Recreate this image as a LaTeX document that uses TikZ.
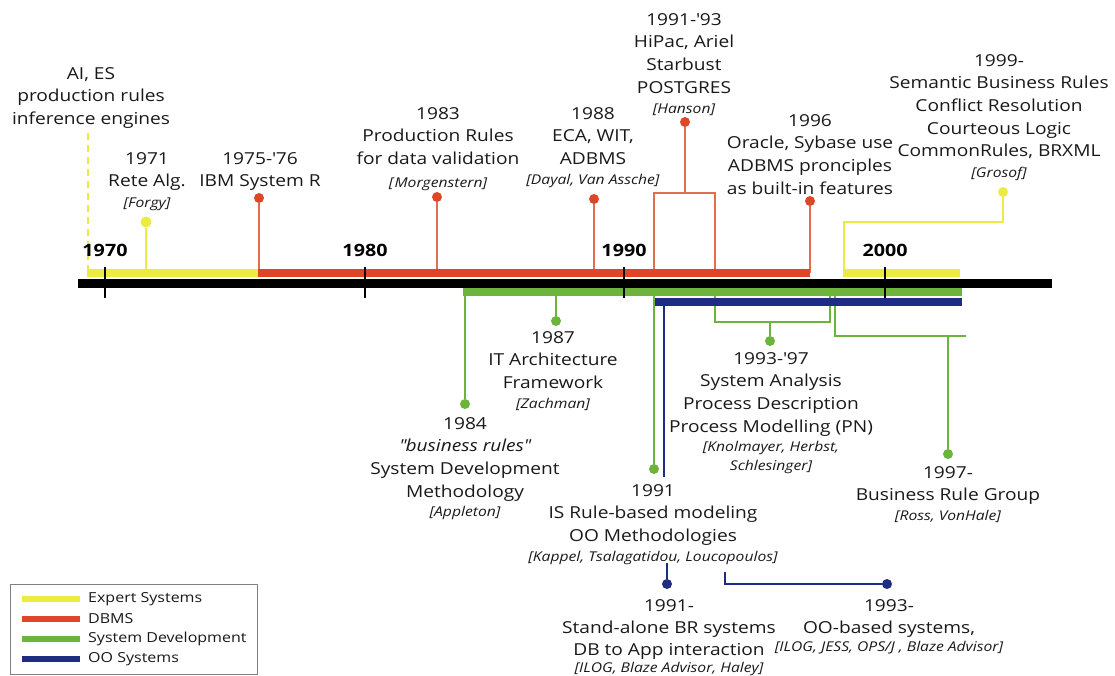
\documentclass[tikz,border=0pt]{standalone}
\usepackage{fontspec}
\setmainfont{Open Sans}[FakeStretch=1.16]
\usetikzlibrary{positioning}
\definecolor{ESClr}{RGB}{236,236,64}
\definecolor{DBClr}{RGB}{222,70,40}
\definecolor{DBLineClr}{RGB}{226,110,80}
\definecolor{SDClr}{RGB}{108,180,60}
\definecolor{OOClr}{RGB}{30,45,130}
\definecolor{TxtClr}{RGB}{25,25,25}
\newcommand{\RefTxt}[1]{{\fontsize{13.5}{16}\selectfont\itshape #1}}
\newcommand{\ap}{\textquotesingle}

\begin{document}
\begin{tikzpicture}[x=1pt,y=-1pt,
  lbl/.style={align=center,anchor=north,inner sep=0pt,text=TxtClr,font=\fontsize{16.5}{22.7}\selectfont},
  yrlbl/.style={inner sep=0pt,font=\fontsize{17}{20}\selectfont\bfseries},
  dot/.style={circle,inner sep=0pt,minimum size=10pt},
  bar/.style={line width=8pt},
  conn/.style={line width=1.5pt},
  legtxt/.style={anchor=west,inner sep=0pt,text=TxtClr,font=\fontsize{13.8}{16}\selectfont}]
\useasboundingbox (0,0) rectangle (1115,675);

% bar levels
\coordinate (esBar) at (0,273);
\coordinate (dbBar) at (0,273);
\coordinate (sdBar) at (0,292);
\coordinate (ooBar) at (0,302);

% labels above the axis
\node[lbl] (tAIES) at (91,67) {AI, ES\\production rules\\inference engines};
\node[lbl] (t1971) at (147,152) {1971\\Rete Alg.\\[-2pt]\RefTxt{[Forgy]}};
\node[lbl] (t1975) at (260,152) {1975-\ap76\\IBM System R};
\node[lbl] (t1983) at (438,107) {1983\\Production Rules\\for data validation\\\RefTxt{[\textup{\itshape Morgenstern}]}};
\node[lbl] (t1988) at (593,107) {1988\\ECA, WIT,\\ADBMS\\[-3pt]\RefTxt{[Dayal, Van Assche]}};
\node[lbl] (t9193) at (684,13) {1991-\ap93\\HiPac, Ariel\\Starbust\\POSTGRES\\[-2pt]\RefTxt{[Hanson]}};
\node[lbl] (t1996) at (810,114) {1996\\Oracle, Sybase use\\ADBMS pronciples\\as built-in features};
\node[lbl] (t1999) at (999,54) {1999-\\Semantic Business Rules\\Conflict Resolution\\Courteous Logic\\CommonRules, BRXML\\[-2pt]\RefTxt{[Grosof]}};

% labels below the axis
\node[lbl] (t1987) at (553,331) {1987\\IT Architecture\\Framework\\[-3pt]\RefTxt{[Zachman]}};
\node[lbl] (t1984) at (465,417) {1984\\\textit{\textquotedbl business rules\textquotedbl}\\System Development\\Methodology\\[-3pt]\RefTxt{[Appleton]}};
\node[lbl] (t1991) at (653,484) {1991\\IS Rule-based modeling\\OO Methodologies\\[-3pt]\RefTxt{[Kappel, Tsalagatidou, Loucopoulos]}};
\node[lbl] (t9397) at (771,352) {1993-\ap97\\System Analysis\\Process Description\\Process Modelling (PN)\\[-3pt]\RefTxt{[Knolmayer, Herbst,}\\[-4pt]\RefTxt{Schlesinger]}};
\node[lbl] (t1997) at (948,466) {1997-\\Business Rule Group\\[-3pt]\RefTxt{[Ross, VonHale]}};
\node[lbl] (t1991b) at (669,599) {1991-\\Stand-alone BR systems\\[-1pt]DB to App interaction\\[-6pt]\RefTxt{[ILOG, Blaze Advisor, Haley]}};
\node[lbl] (t1993) at (889,599) {1993-\\OO-based systems,\\[-5pt]\RefTxt{[ILOG, JESS, OPS/J , Blaze Advisor]}};

% dots
\node[dot,fill=ESClr,minimum size=11pt] (p1971) at (146,222) {};
\node[dot,fill=DBClr] (p1975) at (259,198) {};
\node[dot,fill=DBClr] (p1983) at (437,197) {};
\node[dot,fill=DBClr] (p1988) at (594,199) {};
\node[dot,fill=DBClr] (p9193) at (685,122) {};
\node[dot,fill=DBClr] (p1996) at (810,201) {};
\node[dot,fill=ESClr] (p1999) at (1003,192) {};
\node[dot,fill=SDClr] (p1984) at (465,404) {};
\node[dot,fill=SDClr] (p1987) at (556,321) {};
\node[dot,fill=SDClr] (p1991) at (654,469) {};
\node[dot,fill=SDClr] (p9397) at (770,341) {};
\node[dot,fill=SDClr] (p1997) at (948,454) {};
\node[dot,fill=OOClr] (p1991b) at (667,584) {};
\node[dot,fill=OOClr] (p1993) at (887,584) {};

% connectors
\coordinate (esTop) at (88,133);
\draw[ESClr,line width=2.5pt,dash pattern=on 7pt off 5pt] (esTop) -- (esTop |- esBar);
\draw[conn,ESClr] (p1971) -- (p1971 |- esBar);
\coordinate (esK) at (844,222);
\draw[conn,ESClr] (p1999) |- (esK) -- (esK |- esBar);

\draw[conn,DBLineClr] (p1975) -- (p1975 |- dbBar);
\draw[conn,DBLineClr] (p1983) -- (p1983 |- dbBar);
\draw[conn,DBLineClr] (p1988) -- (p1988 |- dbBar);
\draw[conn,DBLineClr] (p1996) -- (p1996 |- dbBar);
\coordinate (brkL) at (654,193);
\coordinate (brkR) at (715,193);
\draw[conn,DBLineClr] (p9193) -- (p9193 |- brkL);
\draw[conn,DBLineClr] (brkL |- dbBar) -- (brkL) -- (brkR) -- (brkR |- dbBar);

\draw[conn,SDClr] (p1984) -- (p1984 |- sdBar);
\draw[conn,SDClr] (p1987) -- (p1987 |- sdBar);
\draw[conn,SDClr] (p1991) -- (p1991 |- sdBar);
\coordinate (sdL) at (715,322);
\coordinate (sdR) at (830,322);
\draw[conn,SDClr] (sdL |- sdBar) -- (sdL) -- (sdR) -- (sdR |- sdBar);
\draw[conn,SDClr] (p9397) -- (p9397 |- sdL);
\coordinate (sdK) at (835,336);
\coordinate (sdE) at (966,336);
\draw[conn,SDClr] (sdK |- sdBar) -- (sdK) -- (sdE);
\draw[conn,SDClr] (p1997) -- (p1997 |- sdE);

\coordinate (ooEnd) at (664,477);
\draw[conn,OOClr] (ooEnd |- ooBar) -- (ooEnd);
\coordinate (ooA) at (667,563);
\draw[conn,OOClr] (ooA) -- (p1991b);
\coordinate (ooB) at (725,572);
\draw[conn,OOClr] (ooB) |- (p1993);

% bars
\draw[bar,ESClr] (87,273) -- (258,273);
\draw[bar,DBClr] (258,273) -- (810,273);
\draw[bar,ESClr] (843,273) -- (960,273);
\draw[bar,SDClr] (463,292) -- (962,292);
\draw[bar,OOClr] (655,302) -- (962,302);

% axis
\draw[line width=9pt] (78,283) -- (1052,283);
\foreach \tx/\ty in {105/1970,365/1980,624/1990,885/2000}{
  \draw[line width=2.5pt] (\tx,267) -- (\tx,298);
  \node[yrlbl] (y\ty) at (\tx,250) {\ty};
}

% legend
\draw[line width=1pt,gray] (10,584) rectangle (257,674);
\foreach \c/\t [count=\i] in {ESClr/Expert Systems,DBClr/DBMS,SDClr/System Development,OOClr/OO Systems}{
  \draw[line width=6pt,\c] (22,579+20*\i) -- (80,579+20*\i);
  \node[legtxt] (leg\i) at (88,579+20*\i) {\t};
}
\end{tikzpicture}
\end{document}
